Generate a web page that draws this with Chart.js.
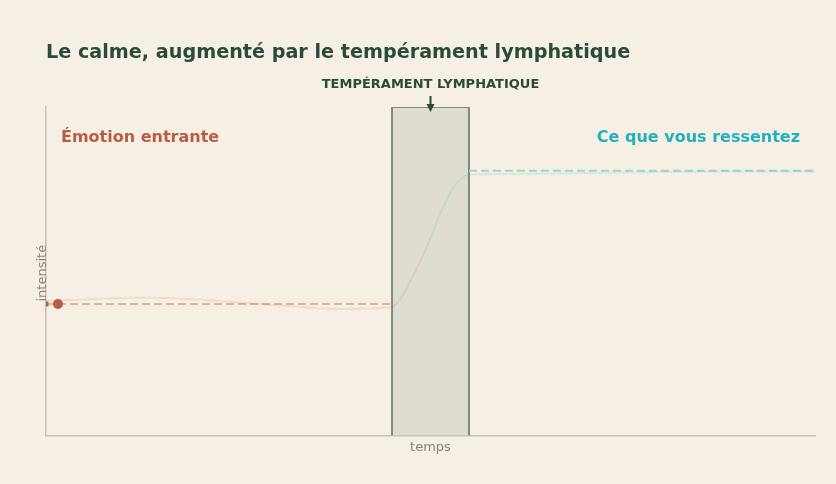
<!DOCTYPE html>
<html>
<head>
<meta charset="utf-8">
<script src="https://cdn.jsdelivr.net/npm/chart.js@4"></script>
<style>
  html, body { margin: 0; padding: 0; background: #f5efe4; }
  #wrap { width: 836px; height: 484px; }
</style>
</head>
<body>
<div id="wrap"><canvas id="calmChart"></canvas></div>
<script>
// time axis runs 0..1, intensity 0..1
var boxSpan = [0.45, 0.55]
var incomingX = [0, 0.45]
var incomingLevel = 0.40
var feltX = [0.55, 1]
var feltLevel = 0.806
var dotX = 0.0156

// faint response curve, red before the middle of the box, teal after
var curveX = [0, 0.06, 0.12, 0.19, 0.25, 0.32, 0.38, 0.4495, 0.4626, 0.4755, 0.4886, 0.5, 0.5101, 0.5231, 0.5341, 0.5449, 0.55, 0.6, 0.7, 0.8, 0.9, 1]
var curveY = [0.409, 0.415, 0.419, 0.415, 0.405, 0.393, 0.385, 0.391, 0.422, 0.478, 0.539, 0.600, 0.661, 0.727, 0.768, 0.791, 0.794, 0.796, 0.799, 0.802, 0.804, 0.804]
var switchX = 0.5

var red = '#b85c45'
var teal = '#22b0c0'
var dark = '#2a4a3c'

function pts(xs, ys) {
  return xs.map(function (x, i) { return { x: x, y: ys[i] } })
}

var labelsPlugin = {
  id: 'labels',
  afterDraw: function (chart) {
    var ctx = chart.ctx
    var xs = chart.scales.x
    var ys = chart.scales.y
    var area = chart.chartArea
    var mid = xs.getPixelForValue((boxSpan[0] + boxSpan[1]) / 2)
    ctx.save()
    ctx.fillStyle = dark
    ctx.font = 'bold 13px "DejaVu Sans"'
    ctx.textAlign = 'center'
    ctx.textBaseline = 'middle'
    ctx.fillText('TEMPÉRAMENT LYMPHATIQUE', mid, 84.5)
    // arrow
    ctx.strokeStyle = dark
    ctx.lineWidth = 2
    ctx.beginPath()
    ctx.moveTo(mid, 96)
    ctx.lineTo(mid, 106)
    ctx.stroke()
    ctx.beginPath()
    ctx.moveTo(mid - 4, 104)
    ctx.lineTo(mid + 4, 104)
    ctx.lineTo(mid, 112)
    ctx.closePath()
    ctx.fill()

    ctx.font = 'bold 16px "DejaVu Sans"'
    ctx.textAlign = 'left'
    ctx.fillStyle = red
    ctx.fillText('Émotion entrante', area.left + 15, 137.5)
    ctx.textAlign = 'right'
    ctx.fillStyle = teal
    ctx.fillText('Ce que vous ressentez', area.right - 15, 137.5)

    ctx.fillStyle = '#8b8275'
    ctx.font = '13px "DejaVu Sans"'
    ctx.translate(area.left - 3, ys.getPixelForValue(0.494))
    ctx.rotate(-Math.PI / 2)
    ctx.textAlign = 'center'
    ctx.fillText('intensité', 0, 0)
    ctx.restore()
  }
}

var ctx = document.getElementById('calmChart').getContext('2d')
var calmChart = new Chart(ctx, {
  type: 'line',
  data: {
    datasets: [
      {
        data: pts(curveX, curveY),
        borderColor: 'rgba(184,92,69,0.13)',
        segment: {
          borderColor: function (c) {
            return c.p0.parsed.x >= switchX ? 'rgba(34,176,192,0.13)' : 'rgba(184,92,69,0.13)'
          }
        },
        borderWidth: 2,
        pointRadius: 0,
        cubicInterpolationMode: 'monotone',
        order: 1
      },
      {
        data: [{ x: boxSpan[0], y: 0 }, { x: boxSpan[0], y: 1 }, { x: boxSpan[1], y: 1 }, { x: boxSpan[1], y: 0 }],
        borderColor: '#7b8c7b',
        backgroundColor: '#dfddd2',
        borderWidth: 2,
        fill: 'origin',
        pointRadius: 0,
        tension: 0,
        order: 3
      },
      {
        data: pts(incomingX, [incomingLevel, incomingLevel]),
        borderColor: '#dfb4a4',
        borderWidth: 2,
        borderDash: [8, 4],
        pointRadius: [3.5, 0],
        pointStyle: 'rect',
        pointBackgroundColor: red,
        pointBorderWidth: 0,
        order: 2
      },
      {
        data: pts(feltX, [feltLevel, feltLevel]),
        borderColor: '#9dd4d6',
        borderWidth: 2,
        borderDash: [8, 4],
        pointRadius: 0,
        order: 2
      },
      {
        data: [{ x: dotX, y: incomingLevel }],
        pointRadius: 5,
        pointBackgroundColor: red,
        pointBorderWidth: 0,
        showLine: false,
        order: 0
      }
    ]
  },
  options: {
    responsive: true,
    maintainAspectRatio: false,
    animation: false,
    layout: { padding: { left: 46, right: 21, top: 0, bottom: 25 } },
    plugins: {
      legend: { display: false },
      tooltip: { enabled: false },
      title: {
        display: true,
        text: 'Le calme, augmenté par le tempérament lymphatique',
        align: 'start',
        color: dark,
        font: { family: 'DejaVu Sans', size: 19.2, weight: 'bold' },
        padding: { top: 41, bottom: 43 }
      }
    },
    scales: {
      x: {
        type: 'linear',
        min: 0,
        max: 1,
        grid: { display: false, drawTicks: false },
        border: { color: '#c9c0b1', width: 1.5 },
        ticks: { display: false },
        title: {
          display: true,
          text: 'temps',
          color: '#8b8275',
          font: { family: 'DejaVu Sans', size: 13 },
          padding: { top: 4, bottom: 4 }
        }
      },
      y: {
        min: 0,
        max: 1,
        grid: { display: false, drawTicks: false },
        border: { color: '#c9c0b1', width: 1.5 },
        ticks: { display: false }
      }
    }
  },
  plugins: [labelsPlugin]
})
</script>
</body>
</html>
